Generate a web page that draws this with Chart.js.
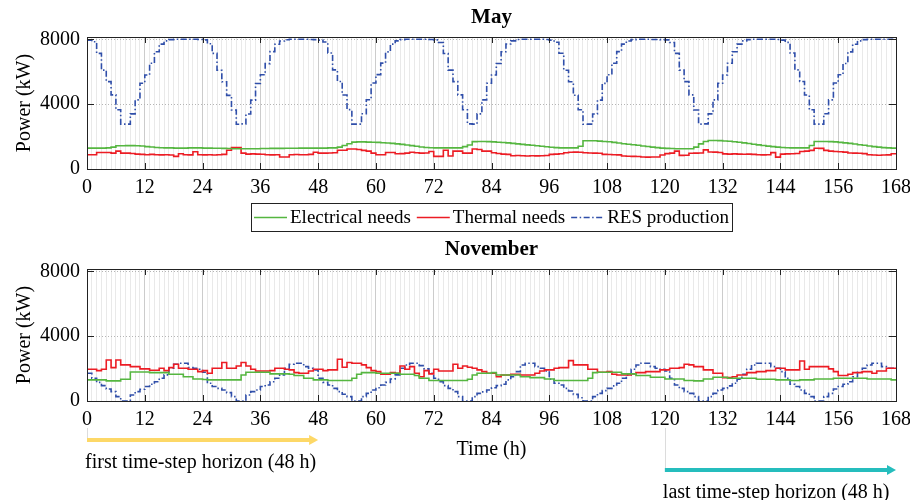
<!DOCTYPE html>
<html>
<head>
<meta charset="utf-8">
<script src="https://cdn.jsdelivr.net/npm/chart.js@4.4.0/dist/chart.umd.min.js"></script>
<style>
  html, body { margin: 0; padding: 0; background: #fff; }
  #wrap { position: relative; width: 910px; height: 500px; }
  canvas { position: absolute; left: 0; }
  #may { top: 0; }
  #nov { top: 232px; }
</style>
</head>
<body>
<div id="wrap">
  <canvas id="may" width="910" height="232"></canvas>
  <canvas id="nov" width="910" height="268"></canvas>
</div>
<script>
// hourly values, kW (hour 0..167)
const mayElec = [
  1290,1290,1290,1290,1300,1350,1430,1430,1440,1440,1430,1420,
  1380,1360,1330,1310,1300,1300,1290,1290,1290,1300,1300,1300,
  1290,1290,1280,1280,1270,1260,1250,1250,1250,1250,1250,1250,
  1260,1260,1270,1270,1270,1280,1280,1280,1290,1290,1290,1290,
  1290,1290,1300,1300,1350,1450,1560,1660,1670,1670,1660,1650,
  1640,1620,1600,1580,1550,1520,1480,1440,1400,1360,1330,1310,
  1300,1300,1300,1300,1300,1300,1380,1480,1690,1700,1700,1690,
  1670,1650,1630,1610,1580,1550,1520,1490,1460,1430,1400,1370,
  1340,1320,1300,1300,1300,1300,1400,1740,1740,1740,1720,1700,
  1680,1640,1600,1560,1530,1500,1460,1420,1390,1350,1320,1290,
  1270,1260,1250,1250,1250,1250,1350,1550,1700,1760,1760,1750,
  1730,1710,1680,1650,1610,1570,1530,1490,1450,1410,1380,1350,
  1330,1310,1300,1300,1300,1300,1450,1700,1700,1700,1690,1670,
  1640,1610,1580,1540,1500,1460,1420,1380,1350,1320,1300,1290
];
const mayTherm = [
  880,880,1020,1020,1020,980,1100,980,980,960,920,900,
  880,900,880,870,880,860,780,940,880,870,1060,880,
  870,880,860,880,900,1160,1320,1320,980,920,930,920,
  910,880,870,880,740,740,880,890,880,880,900,1030,
  980,980,990,1000,1160,1160,1230,1230,1200,1150,1100,980,
  880,880,1020,1020,940,950,980,1030,1000,980,990,1080,
  780,780,1160,800,1100,1100,980,980,1230,1200,1100,1100,
  1000,960,920,900,820,830,820,800,820,810,820,830,
  900,920,940,1000,1030,1040,1030,1000,990,980,970,900,
  890,880,870,800,790,780,770,740,730,740,740,860,
  950,980,1100,840,850,970,980,990,1180,1050,1040,1020,
  930,920,930,920,910,920,900,880,870,880,1010,730,
  920,930,940,960,1080,1100,1150,1280,1270,1150,1100,1080,
  1060,1040,990,980,970,950,880,860,850,860,870,940
];
const mayRes = [
  7950,7850,7130,6100,5390,4570,3650,2770,2770,3400,4260,5290,
  5800,6520,7230,7700,7900,7980,8000,8000,8000,8000,8000,7990,
  7960,7720,7130,6090,5380,4540,3640,2760,2780,3390,4250,5270,
  5810,6500,7240,7690,7890,7970,8000,8000,8000,8000,7990,7980,
  7950,7830,7150,6110,5400,4560,3660,2770,2770,3410,4270,5300,
  5820,6530,7220,7700,7900,7980,8000,8000,8000,8000,8000,7990,
  7960,7800,7120,6100,5390,4570,3650,2780,2770,3400,4260,5290,
  5800,6510,7230,7710,7900,7990,8000,8000,8000,8000,8000,7990,
  7950,7820,7140,6090,5380,4550,3650,2760,2770,3390,4250,5280,
  5810,6520,7240,7700,7890,7980,8000,8000,8000,7990,7990,7980,
  7960,7800,7130,6100,5390,4570,3640,2770,2780,3400,4260,5290,
  5800,6520,7230,7700,7900,7980,8000,8000,8000,8000,8000,7990,
  7950,7810,7150,6110,5400,4560,3650,2770,2770,3410,4260,5300,
  5810,6510,7220,7690,7900,7980,8000,8000,8000,8000,8000,8000
];
const novElec = [
  1300,1300,1300,1300,1240,1240,1240,1340,1340,1790,1790,1790,
  1790,1750,1750,1750,1750,1650,1650,1650,1500,1500,1360,1360,
  1330,1300,1300,1300,1300,1300,1300,1300,1600,1770,1770,1770,
  1770,1770,1670,1670,1670,1670,1650,1570,1570,1400,1400,1300,
  1300,1300,1260,1260,1260,1260,1260,1400,1650,1750,1750,1750,
  1710,1710,1710,1710,1710,1650,1650,1650,1570,1400,1400,1260,
  1260,1260,1260,1260,1260,1260,1260,1340,1600,1710,1710,1710,
  1750,1600,1600,1600,1600,1600,1500,1500,1440,1440,1440,1360,
  1360,1260,1260,1260,1260,1260,1260,1260,1400,1750,1770,1770,
  1770,1770,1770,1670,1670,1670,1570,1570,1570,1460,1460,1460,
  1360,1360,1360,1360,1260,1260,1240,1240,1360,1360,1460,1460,
  1460,1400,1400,1400,1400,1400,1400,1340,1340,1340,1340,1300,
  1300,1300,1260,1260,1300,1300,1300,1360,1360,1360,1360,1400,
  1400,1400,1400,1400,1400,1400,1360,1360,1360,1360,1360,1300
];
const novTherm = [
  1960,1960,1875,1960,2530,2060,2530,2225,2225,2120,2120,1980,
  1980,1900,1900,2020,1875,2060,2270,2020,2020,1960,1960,1810,
  1875,1710,2020,2020,2370,2020,2020,2160,2370,2160,1960,1850,
  1850,1850,1875,2020,2020,1960,1920,1750,1710,1710,1850,1960,
  1960,1875,1920,1920,2575,2080,2370,2330,2330,2225,2060,1875,
  1810,1650,1650,1750,1710,2160,1960,2120,1710,1500,1875,1670,
  1960,1850,1850,1850,2270,2020,2160,2080,2020,1920,1810,1710,
  1710,1500,1600,1600,1650,1650,1600,1600,1600,1710,1850,1920,
  1920,2020,2060,2060,2490,2225,2225,2225,1960,1960,1770,1770,
  1810,1650,1600,1600,1600,1670,1750,1750,1810,1810,1810,1920,
  1920,2020,2020,2060,2270,2225,2120,2120,1920,1920,1710,1710,
  1440,1440,1500,1600,1600,1750,1750,1810,1810,1875,1875,2020,
  2020,1920,1920,1920,2470,1960,2120,2120,2120,2120,1980,1810,
  1570,1570,1650,1750,1750,1810,1810,1710,1850,1850,2020,2020
];
const novRes = [
  1710,1400,1150,950,740,580,270,0,0,370,580,720,
  890,1030,1190,1400,1610,2020,2270,2330,2330,2060,2020,1960,
  1770,1090,890,780,680,515,270,0,0,370,580,680,
  890,990,1190,1400,1610,2020,2270,2330,2330,2120,2020,1920,
  1400,1150,990,780,580,420,270,0,0,270,470,680,
  820,990,1150,1360,1610,2020,2220,2330,2330,2180,1980,1710,
  1400,1190,950,780,580,270,0,0,270,470,560,680,
  820,950,1030,1300,1500,1810,2220,2330,2330,2120,2020,1850,
  1340,1090,990,780,620,410,200,0,0,270,470,640,
  780,930,1090,1400,1610,1960,2220,2330,2330,2120,2020,1960,
  1850,1400,990,780,580,470,270,0,0,270,470,680,
  780,930,1090,1340,1650,1960,2220,2330,2330,2330,2120,2020,
  1810,1400,1030,890,680,470,270,0,0,270,470,740,
  890,1030,1190,1500,1770,2020,2220,2330,2330,2120,2020,2020
];

const hours = Array.from({length: 169}, (_, i) => i);
const yTicks = [0, 4000, 8000];
const seriesNames = ['Electrical needs', 'Thermal needs', 'RES production'];
const seriesColors = ['#55b640', '#ec1c24', '#2f4ea9'];
const horizonStart = [0, 120];
const horizonLength = 48;
const horizonLabels = ['first time-step horizon (48 h)', 'last time-step horizon (48 h)'];
const horizonColors = ['#fdd867', '#25bdbd'];

Chart.defaults.font.family = "'Liberation Serif', serif";
Chart.defaults.font.size = 20;
Chart.defaults.color = '#000';

function steps(vals) {
  // hold each hourly value until the next hour
  const pts = vals.map((v, i) => ({x: i, y: v}));
  pts.push({x: vals.length, y: vals[vals.length - 1]});
  return pts;
}

const boxPlugin = {
  id: 'boxPlugin',
  afterDraw(chart) {
    const {ctx, chartArea: a, scales: {x, y}} = chart;
    ctx.save();
    ctx.strokeStyle = '#222';
    ctx.lineWidth = 1;
    ctx.beginPath();
    x.ticks.forEach(t => {
      if (t.value % 12) return;
      const px = Math.round(x.getPixelForValue(t.value)) + 0.5;
      ctx.moveTo(px, a.bottom); ctx.lineTo(px, a.bottom - 6);
      ctx.moveTo(px, a.top); ctx.lineTo(px, a.top + 6);
    });
    y.ticks.forEach(t => {
      const py = Math.round(y.getPixelForValue(t.value)) + 0.5;
      ctx.moveTo(a.left, py); ctx.lineTo(a.left + 7, py);
      ctx.moveTo(a.right, py); ctx.lineTo(a.right - 7, py);
    });
    ctx.stroke();
    ctx.strokeRect(Math.round(a.left) + 0.5, Math.round(a.top) + 0.5,
                   Math.round(a.right - a.left), Math.round(a.bottom - a.top));
    ctx.restore();
  }
};

const legendPlugin = {
  id: 'legendPlugin',
  afterDraw(chart) {
    const {ctx, chartArea: a} = chart;
    const sample = 33;
    ctx.save();
    ctx.font = "19px 'Liberation Serif', serif";
    const ds = chart.data.datasets;
    const widths = ds.map(d => ctx.measureText(d.label).width);
    let total = 6;
    widths.forEach(w => { total += sample + 3 + w; });
    total += 6 * (ds.length - 1);
    const left = Math.round((a.left + a.right) / 2 - total / 2);
    const top = a.bottom + 34, h = 28;
    ctx.strokeStyle = '#222';
    ctx.lineWidth = 1;
    ctx.strokeRect(left + 0.5, top + 0.5, Math.round(total), h);
    let cx = left + 3;
    const cy = top + h / 2 + 0.5;
    ctx.textBaseline = 'middle';
    ctx.textAlign = 'left';
    ds.forEach((d, i) => {
      ctx.beginPath();
      ctx.setLineDash(d.borderDash || []);
      ctx.strokeStyle = d.borderColor;
      ctx.lineWidth = d.borderWidth;
      ctx.moveTo(cx, cy); ctx.lineTo(cx + sample, cy);
      ctx.stroke();
      ctx.setLineDash([]);
      cx += sample + 3;
      ctx.fillStyle = '#000';
      ctx.fillText(d.label, cx, cy + 1);
      cx += widths[i] + 6;
    });
    ctx.restore();
  }
};

const horizonPlugin = {
  id: 'horizonPlugin',
  afterDraw(chart) {
    const {ctx, chartArea: a, scales: {x}} = chart;
    ctx.save();
    horizonStart.forEach((s, i) => {
      const x0 = x.getPixelForValue(s);
      const x1 = x.getPixelForValue(s + horizonLength);
      const ay = a.bottom + 39 + i * 30;
      ctx.strokeStyle = '#dcdcdc';
      ctx.lineWidth = 1;
      ctx.beginPath();
      ctx.moveTo(Math.round(x0) + 0.5, a.bottom + 27);
      ctx.lineTo(Math.round(x0) + 0.5, ay);
      ctx.stroke();
      ctx.strokeStyle = horizonColors[i];
      ctx.fillStyle = horizonColors[i];
      ctx.lineWidth = 4;
      ctx.beginPath();
      ctx.moveTo(x0, ay); ctx.lineTo(x1 - 7, ay);
      ctx.stroke();
      ctx.beginPath();
      ctx.moveTo(x1, ay); ctx.lineTo(x1 - 9, ay - 5); ctx.lineTo(x1 - 9, ay + 5);
      ctx.closePath();
      ctx.fill();
      ctx.fillStyle = '#000';
      ctx.font = "20px 'Liberation Serif', serif";
      ctx.textBaseline = 'middle';
      ctx.fillText(horizonLabels[i], x0 - 2, ay + 23);
    });
    ctx.restore();
  }
};

function makeChart(id, title, elec, therm, res, xHeight, xTitle, extra) {
  return new Chart(document.getElementById(id), {
    type: 'line',
    data: {
      datasets: [
        {label: seriesNames[0], data: steps(elec), borderColor: seriesColors[0], borderWidth: 1.6},
        {label: seriesNames[1], data: steps(therm), borderColor: seriesColors[1], borderWidth: 1.6},
        {label: seriesNames[2], data: steps(res), borderColor: seriesColors[2], borderWidth: 1.6,
         borderDash: [6, 2.5, 1.5, 2.5]}
      ].map(d => Object.assign(d, {stepped: true, pointRadius: 0, fill: false, clip: 4}))
    },
    options: {
      responsive: false,
      animation: false,
      devicePixelRatio: 1,
      layout: {padding: {left: 0, right: 14, top: 0, bottom: 0}},
      plugins: {
        legend: {display: false},
        tooltip: {enabled: false},
        title: {
          display: true, text: title, fullSize: false,
          font: {size: 21, weight: 'bold', lineHeight: 1.2},
          padding: {top: 5, bottom: 6.8}, color: '#000'
        }
      },
      scales: {
        x: {
          type: 'linear', min: 0, max: 168,
          afterBuildTicks: s => { s.ticks = hours.map(v => ({value: v})); },
          afterFit: s => { s.height = xHeight; s.paddingLeft = 0; s.paddingRight = 0; },
          ticks: {
            autoSkip: false, maxRotation: 0, padding: 7,
            callback: v => (v % 12 === 0 ? String(v) : '')
          },
          grid: {
            drawTicks: false,
            color: c => (c.tick && c.tick.value % 12 === 0 ? '#cccccc' : '#e9e9e9'),
            lineWidth: 1
          },
          border: {display: false},
          title: {display: !!xTitle, text: xTitle || '', padding: {top: 0, bottom: 38}}
        },
        y: {
          min: 0, max: 8140,
          afterBuildTicks: s => { s.ticks = yTicks.map(v => ({value: v})); },
          afterFit: s => { s.width = 87; s.paddingTop = 0; s.paddingBottom = 0; },
          ticks: {padding: 7, callback: v => String(v)},
          grid: {
            drawTicks: false,
            color: c => (c.tick && c.tick.value === 0 ? 'rgba(0,0,0,0)' : '#b5b5b5'),
            lineWidth: 1
          },
          border: {display: false, dash: [1, 2]},
          title: {display: true, text: 'Power (kW)', padding: {top: 13, bottom: 0}}
        }
      }
    },
    plugins: [boxPlugin].concat(extra)
  });
}

makeChart('may', 'May', mayElec, mayTherm, mayRes, 63, null, [legendPlugin]);
makeChart('nov', 'November', novElec, novTherm, novRes, 99, 'Time (h)', [horizonPlugin]);
</script>
</body>
</html>
